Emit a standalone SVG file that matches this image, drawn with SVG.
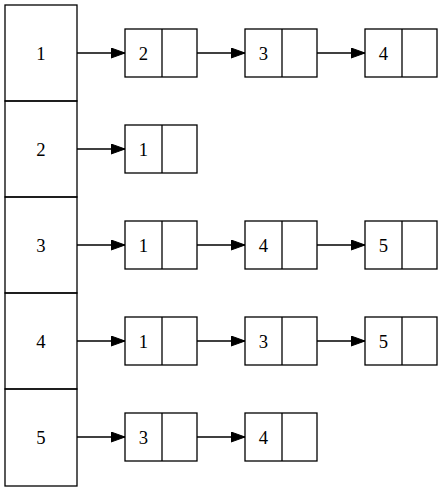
<svg xmlns="http://www.w3.org/2000/svg" width="443" height="492" viewBox="0 0 443 492">
<style>
.b{fill:none;stroke:#000;stroke-width:1.3}
.e{fill:none;stroke:#000;stroke-width:1.3}
text{font-family:"Liberation Serif","Times New Roman",serif;font-size:18.67px;text-anchor:middle;fill:#000}
</style>
<defs>
<marker id="ah" markerUnits="userSpaceOnUse" markerWidth="15" markerHeight="11" refX="14" refY="5" orient="auto">
<path d="M0,0 L14,5 L0,10 Z" fill="#000" stroke="#000" stroke-width="1"/>
</marker>
</defs>
<g id="table">
<g id="t1"><rect class="b" x="5" y="5" width="72" height="96"/><text x="41" y="59.5">1</text></g>
<g id="t2"><rect class="b" x="5" y="101" width="72" height="96"/><text x="41" y="155.5">2</text></g>
<g id="t3"><rect class="b" x="5" y="197" width="72" height="96"/><text x="41" y="251.5">3</text></g>
<g id="t4"><rect class="b" x="5" y="293" width="72" height="96"/><text x="41" y="347.5">4</text></g>
<g id="t5"><rect class="b" x="5" y="389" width="72" height="97"/><text x="41" y="443.5">5</text></g>
</g>
<g id="r1n1"><rect class="b" x="125" y="29" width="72" height="48"/><line class="b" x1="162" y1="29" x2="162" y2="77"/><text x="143.5" y="59.5">2</text></g>
<g id="r1n2"><rect class="b" x="245" y="29" width="72" height="48"/><line class="b" x1="282" y1="29" x2="282" y2="77"/><text x="263.5" y="59.5">3</text></g>
<g id="r1n3"><rect class="b" x="365" y="29" width="72" height="48"/><line class="b" x1="402" y1="29" x2="402" y2="77"/><text x="383.5" y="59.5">4</text></g>
<g id="r2n1"><rect class="b" x="125" y="125" width="72" height="48"/><line class="b" x1="162" y1="125" x2="162" y2="173"/><text x="143.5" y="155.5">1</text></g>
<g id="r3n1"><rect class="b" x="125" y="221" width="72" height="48"/><line class="b" x1="162" y1="221" x2="162" y2="269"/><text x="143.5" y="251.5">1</text></g>
<g id="r3n2"><rect class="b" x="245" y="221" width="72" height="48"/><line class="b" x1="282" y1="221" x2="282" y2="269"/><text x="263.5" y="251.5">4</text></g>
<g id="r3n3"><rect class="b" x="365" y="221" width="72" height="48"/><line class="b" x1="402" y1="221" x2="402" y2="269"/><text x="383.5" y="251.5">5</text></g>
<g id="r4n1"><rect class="b" x="125" y="317" width="72" height="48"/><line class="b" x1="162" y1="317" x2="162" y2="365"/><text x="143.5" y="347.5">1</text></g>
<g id="r4n2"><rect class="b" x="245" y="317" width="72" height="48"/><line class="b" x1="282" y1="317" x2="282" y2="365"/><text x="263.5" y="347.5">3</text></g>
<g id="r4n3"><rect class="b" x="365" y="317" width="72" height="48"/><line class="b" x1="402" y1="317" x2="402" y2="365"/><text x="383.5" y="347.5">5</text></g>
<g id="r5n1"><rect class="b" x="125" y="413" width="72" height="48"/><line class="b" x1="162" y1="413" x2="162" y2="461"/><text x="143.5" y="443.5">3</text></g>
<g id="r5n2"><rect class="b" x="245" y="413" width="72" height="48"/><line class="b" x1="282" y1="413" x2="282" y2="461"/><text x="263.5" y="443.5">4</text></g>
<g id="connectors">
<line class="e" x1="77" y1="53" x2="125" y2="53" marker-end="url(#ah)"/>
<line class="e" x1="197" y1="53" x2="245" y2="53" marker-end="url(#ah)"/>
<line class="e" x1="317" y1="53" x2="365" y2="53" marker-end="url(#ah)"/>
<line class="e" x1="77" y1="149" x2="125" y2="149" marker-end="url(#ah)"/>
<line class="e" x1="77" y1="245" x2="125" y2="245" marker-end="url(#ah)"/>
<line class="e" x1="197" y1="245" x2="245" y2="245" marker-end="url(#ah)"/>
<line class="e" x1="317" y1="245" x2="365" y2="245" marker-end="url(#ah)"/>
<line class="e" x1="77" y1="341" x2="125" y2="341" marker-end="url(#ah)"/>
<line class="e" x1="197" y1="341" x2="245" y2="341" marker-end="url(#ah)"/>
<line class="e" x1="317" y1="341" x2="365" y2="341" marker-end="url(#ah)"/>
<line class="e" x1="77" y1="437" x2="125" y2="437" marker-end="url(#ah)"/>
<line class="e" x1="197" y1="437" x2="245" y2="437" marker-end="url(#ah)"/>
</g>
</svg>
